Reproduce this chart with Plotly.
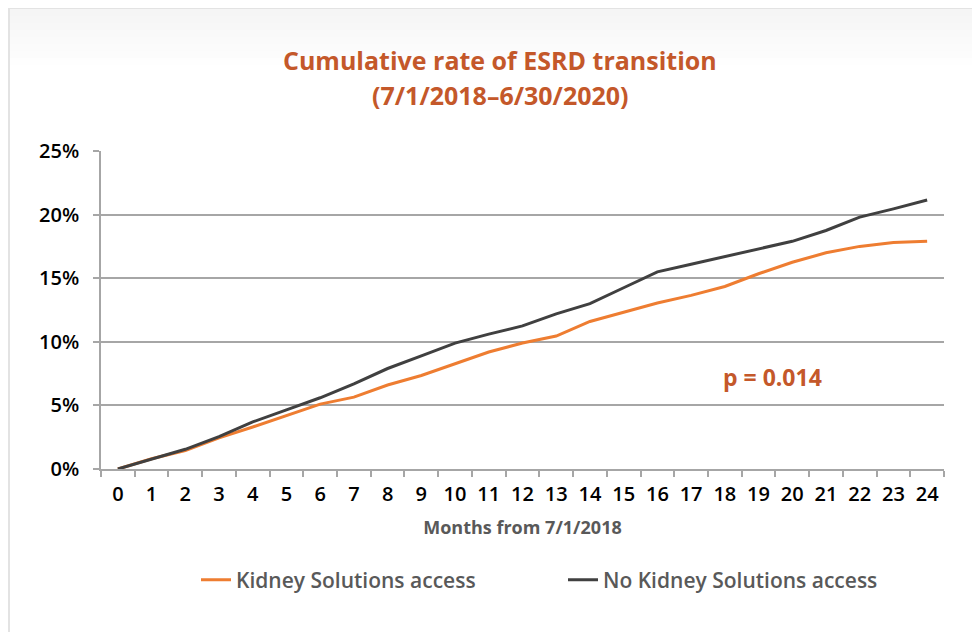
import plotly.graph_objects as go

months = [str(m) for m in range(25)]
ks_access = [0, 0.8, 1.45, 2.45, 3.3, 4.2, 5.1, 5.65, 6.6, 7.35, 8.25, 9.2, 9.9,
             10.45, 11.6, 12.35, 13.05, 13.65, 14.35, 15.35, 16.25, 17.0, 17.5, 17.8, 17.9]
no_ks_access = [0, 0.8, 1.55, 2.55, 3.7, 4.65, 5.6, 6.7, 7.9, 8.9, 9.9, 10.6, 11.25,
                12.2, 13.0, 14.25, 15.5, 16.1, 16.7, 17.3, 17.9, 18.75, 19.8, 20.45, 21.15]
series_names = ["Kidney Solutions access", "No Kidney Solutions access"]
title_lines = ["Cumulative rate of ESRD transition", "(7/1/2018\u20136/30/2020)"]
p_text = "p = 0.014"
x_title = "Months from 7/1/2018"

ORANGE = "#EE7D31"
DARK = "#404040"
TITLE_C = "#C4582A"
GRID = "#A6A6A6"
FONT = "Open Sans"

# page body has an 8px margin; work in screen pixel coordinates
O = 8
W, H = 980 - O, 632 - O
PL, PR, PT, PB = 101, 944, 151, 469   # plot area in screen px
L, T = PL - O, PT - O
R, B = W - (PR - O), H - (PB - O)
pw, ph = PR - PL, PB - PT


def px(x):
    return (x - PL) / pw


def py(y):
    return (PB - y) / ph


fig = go.Figure()
fig.add_trace(go.Scatter(x=months, y=[v / 100 for v in ks_access], mode="lines",
                         name=series_names[0], line=dict(color=ORANGE, width=3)))
fig.add_trace(go.Scatter(x=months, y=[v / 100 for v in no_ks_access], mode="lines",
                         name=series_names[1], line=dict(color=DARK, width=3)))

shapes = []
for i in range(8):
    y0 = 9 + i * 7
    a = 0.04 * (1 - i / 8)
    shapes.append(dict(type="rect", xref="paper", yref="paper",
                       x0=px(10), x1=px(990), y0=py(y0), y1=py(y0 + 7),
                       fillcolor=f"rgba(0,0,0,{a:.3f})", line=dict(width=0), layer="below"))
shapes.append(dict(type="line", xref="paper", yref="paper", x0=px(9), x1=px(9),
                   y0=py(8), y1=py(640), line=dict(color="#E3E3E3", width=2)))
shapes.append(dict(type="line", xref="paper", yref="paper", x0=px(9), x1=px(990),
                   y0=py(8), y1=py(8), line=dict(color="#E3E3E3", width=2)))

annotations = [
    dict(text=title_lines[0], xref="paper", yref="paper", x=px(500), y=py(60),
         xanchor="center", yanchor="middle", showarrow=False,
         font=dict(family=FONT, size=25, color=TITLE_C, weight="bold")),
    dict(text=title_lines[1], xref="paper", yref="paper", x=px(500), y=py(95),
         xanchor="center", yanchor="middle", showarrow=False,
         font=dict(family=FONT, size=25, color=TITLE_C, weight="bold")),
    dict(text=p_text, xref="paper", yref="paper", x=px(772), y=py(377),
         xanchor="center", yanchor="middle", showarrow=False,
         font=dict(family=FONT, size=23, color=TITLE_C, weight="bold")),
]

fig.update_layout(
    width=W, height=H,
    margin=dict(l=L, r=R, t=T, b=B),
    paper_bgcolor="white", plot_bgcolor="white",
    font=dict(family=FONT, color="black"),
    shapes=shapes,
    annotations=annotations,
    xaxis=dict(type="category", range=[-0.5, 24.5], tickson="boundaries",
               ticks="outside", ticklen=6, tickcolor=GRID, tickwidth=1.5,
               showline=True, linecolor=GRID, linewidth=1.5, showgrid=False,
               tickfont=dict(size=20, color="black", weight=600), ticklabelstandoff=6,
               title=dict(text=x_title, standoff=16,
                          font=dict(size=18, color="#595959", weight="bold"))),
    yaxis=dict(range=[0, 0.25], dtick=0.05, tickformat=".0%",
               ticks="outside", ticklen=6, tickcolor=GRID, tickwidth=1.5,
               showline=True, linecolor=GRID, linewidth=1.5,
               showgrid=True, gridcolor=GRID, gridwidth=1.5, zeroline=False,
               tickfont=dict(size=20, color="black", weight=600), ticklabelstandoff=10),
    legend=dict(orientation="h", x=px(196), xanchor="left", y=py(580), yanchor="middle",
                entrywidth=322, entrywidthmode="pixels",
                font=dict(size=21, color="#595959", weight=600)),
)

fig.write_html("out.html")
